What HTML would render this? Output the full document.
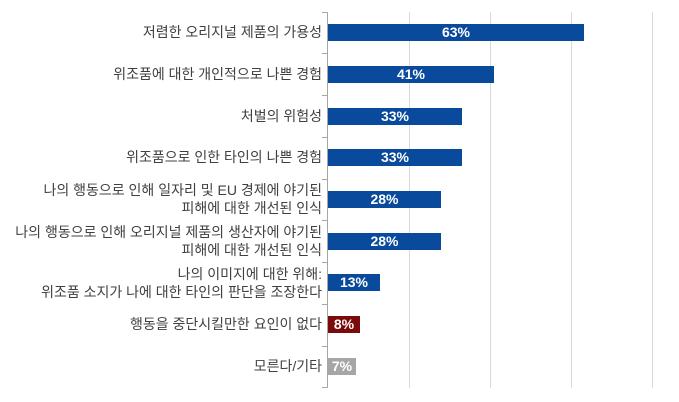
<!DOCTYPE html>
<html><head><meta charset="utf-8"><style>
body{margin:0;width:679px;height:402px;background:#fff;overflow:hidden;position:relative;font-family:"Liberation Sans","Noto Sans CJK KR",sans-serif}
.g{position:absolute;top:12px;height:376px;width:1px;background:#d9d9d9}
.ax{position:absolute;left:327px;top:12px;height:376px;width:1px;background:#a6a6a6}
.t{position:absolute;left:322px;width:5px;height:1px;background:#a6a6a6}
.b{position:absolute;left:328px;height:17px;color:#fff;font-weight:bold;font-size:14px;line-height:17px;text-align:center}
.l{position:absolute;right:357px;text-align:right;font-size:14px;color:#404040;line-height:18px;white-space:nowrap}
</style></head><body>
<div class="g" style="left:409px"></div><div class="g" style="left:490px"></div><div class="g" style="left:571px"></div><div class="g" style="left:652px"></div>
<div class="ax"></div>
<div class="t" style="top:12px"></div><div class="t" style="top:53px"></div><div class="t" style="top:95px"></div><div class="t" style="top:137px"></div><div class="t" style="top:179px"></div><div class="t" style="top:220px"></div><div class="t" style="top:262px"></div><div class="t" style="top:304px"></div><div class="t" style="top:346px"></div><div class="t" style="top:387px"></div>

<div class="b" style="top:24px;width:256px;background:#0a4a9c">63%</div>
<div class="b" style="top:66px;width:166px;background:#0a4a9c">41%</div>
<div class="b" style="top:108px;width:134px;background:#0a4a9c">33%</div>
<div class="b" style="top:149px;width:134px;background:#0a4a9c">33%</div>
<div class="b" style="top:191px;width:113px;background:#0a4a9c">28%</div>
<div class="b" style="top:233px;width:113px;background:#0a4a9c">28%</div>
<div class="b" style="top:274px;width:52px;background:#0a4a9c">13%</div>
<div class="b" style="top:316px;width:32px;background:#7b0a0a">8%</div>
<div class="b" style="top:358px;width:28px;background:#a6a6a6">7%</div>

<div class="l" style="top:23px">저렴한 오리지널 제품의 가용성</div>
<div class="l" style="top:65px">위조품에 대한 개인적으로 나쁜 경험</div>
<div class="l" style="top:107px">처벌의 위험성</div>
<div class="l" style="top:148px">위조품으로 인한 타인의 나쁜 경험</div>
<div class="l" style="top:181px">나의 행동으로 인해 일자리 및 EU 경제에 야기된<br>피해에 대한 개선된 인식</div>
<div class="l" style="top:223px">나의 행동으로 인해 오리지널 제품의 생산자에 야기된<br>피해에 대한 개선된 인식</div>
<div class="l" style="top:265px">나의 이미지에 대한 위해:<br>위조품 소지가 나에 대한 타인의 판단을 조장한다</div>
<div class="l" style="top:315px">행동을 중단시킬만한 요인이 없다</div>
<div class="l" style="top:357px">모른다/기타</div>
</body></html>
